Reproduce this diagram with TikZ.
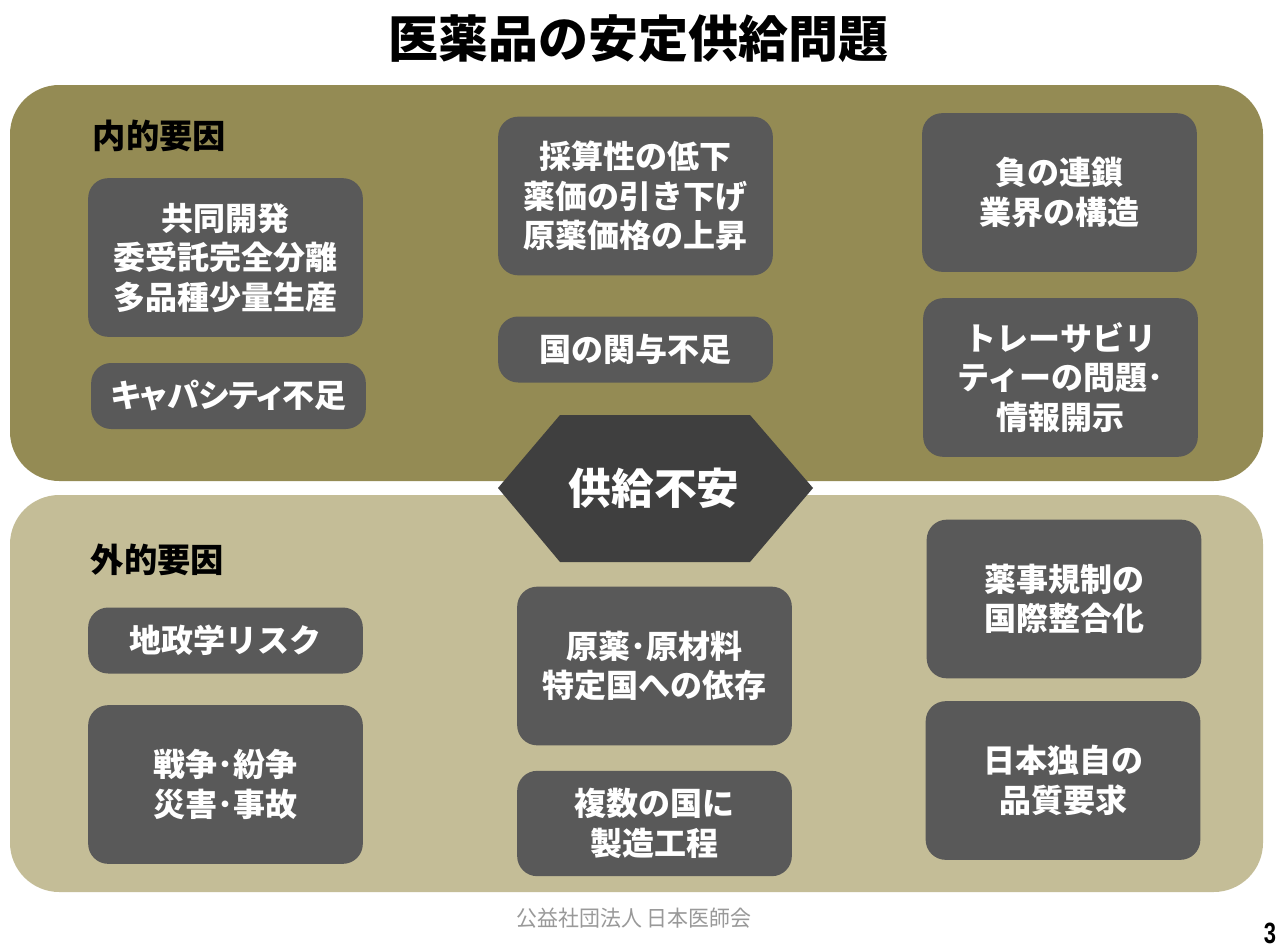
\documentclass[tikz,border=0pt]{standalone}
\usepackage{fontspec}
\newfontfamily\jp{Noto Sans CJK JP}
\newfontfamily\jpfoot{Noto Sans CJK JP}[FakeStretch=0.95]
\newfontfamily\numfont{Liberation Sans}[FakeStretch=0.75]
\definecolor{innerolive}{HTML}{948B54}
\definecolor{outerbeige}{HTML}{C4BD97}
\definecolor{factorgray}{HTML}{595959}
\definecolor{coregray}{HTML}{3F3F3F}
\tikzset{
  panel/.style={rounded corners=37pt},
  factor/.style={fill=factorgray, rounded corners=15pt, text=white, align=center,
    minimum width=206pt, font=\jp\bfseries\fontsize{24}{29.6}\selectfont},
  tall/.style={minimum height=119pt},
  short/.style={minimum height=49.5pt},
  grouplabel/.style={anchor=west, font=\jp\bfseries\fontsize{25}{30}\selectfont}
}
\begin{document}
\begin{tikzpicture}[x=0.75pt,y=-0.75pt]
        \useasboundingbox (0,0) rectangle (1280,949);
        \fill[white] (0,0) rectangle (1280,949);
        \node[font=\jp\bfseries\fontsize{37.5}{40}\selectfont] (title) at (638,39) {医薬品の安定供給問題};
        % panels
        \fill[innerolive, panel] (10,85) rectangle (1263,481);
        \fill[outerbeige, panel] (10,495) rectangle (1263,892);
        \node[grouplabel] (internal) at (88,136) {内的要因};
        \node[grouplabel] (external) at (86,560) {外的要因};
        % internal factors
        \node[factor, tall] (kyodo) at (225.5,257.5) {共同開発\\委受託完全分離\\多品種少量生産};
        \node[factor, short] (capacity) at (228.5,396) {\addfontfeature{RawFeature=+palt}キャパシティ不足};
        \node[factor, tall] (saisan) at (635.5,196) {採算性の低下\\薬価の引き下げ\\原薬価格の上昇};
        \node[factor, short] (kuni) at (635.5,349.5) {国の関与不足};
        \node[factor, tall] (fusa) at (1059.5,192.5) {負の連鎖\\業界の構造};
        \node[factor, tall] (trace) at (1060.5,377.5) {トレーサビリ\\ティーの問題･\\情報開示};
        % external factors
        \node[factor, short] (chisei) at (225.5,640.5) {地政学リスク};
        \node[factor, tall] (senso) at (225.5,784.5) {戦争･紛争\\災害･事故};
        \node[factor, tall] (genyaku) at (654.5,666) {原薬･原材料\\特定国への依存};
        \node[factor, minimum height=79pt] (fukusu) at (654.5,823.5) {複数の国に\\製造工程};
        \node[factor, tall] (yakuji) at (1064,599) {薬事規制の\\国際整合化};
        \node[factor, tall] (nihon) at (1063,780.5) {日本独自の\\品質要求};
        % center
        \fill[coregray] (498,488) -- (560,415) -- (750,415) -- (813,488) -- (750,562) -- (560,562) -- cycle;
        \node[text=white, font=\jp\bfseries\fontsize{32}{36}\selectfont] (anxiety) at (654,488) {供給不安};
        % footer
        \node[text=black!40, font=\jpfoot\fontsize{16.5}{19}\selectfont] (jma) at (634,918) {公益社団法人 日本医師会};
        \node[font=\numfont\bfseries\fontsize{22}{24}\selectfont] (page) at (1270,933) {3};
    \end{tikzpicture}
\end{document}
